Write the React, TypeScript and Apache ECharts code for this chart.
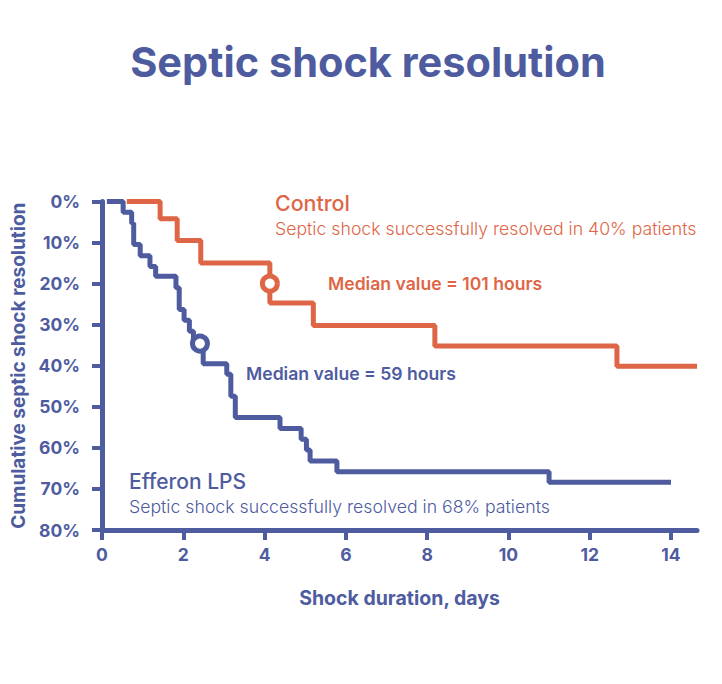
import React, { useEffect, useRef } from 'react';
import * as echarts from 'echarts';

const BLUE = '#4e5c9f';
const ORANGE = '#de6646';
const FONT = 'Inter, "Noto Sans", sans-serif';

// Efferon LPS (blue) Kaplan–Meier steps: day -> cumulative % resolved
const efferonDays = [0.12, 0.52, 0.73, 0.78, 0.94, 1.18, 1.32, 1.82, 1.9, 2.02, 2.15, 2.25, 2.49, 3.07, 3.17, 3.28, 4.38, 4.9, 5.03, 5.12, 5.78, 11.0, 14.0];
const efferonPct = [0, 2.6, 5.3, 10.5, 13.2, 15.8, 18.2, 21.0, 26.3, 28.9, 31.6, 34.2, 39.5, 42.1, 47.4, 52.6, 55.3, 57.9, 60.5, 63.2, 65.8, 68.4, 68.4];

// Control (orange)
const controlDays = [0.61, 1.43, 1.85, 2.43, 4.13, 5.2, 8.19, 12.67, 14.64];
const controlPct = [0, 4.2, 9.5, 15.0, 24.7, 30.2, 35.2, 40.1, 40.1];

// Median markers
const efferonMedian = [2.41, 34.6];
const controlMedian = [4.13, 20.0];

const xTicks = [0, 2, 4, 6, 8, 10, 12, 14];
const yTicks = [0, 10, 20, 30, 40, 50, 60, 70, 80];
const xMax = 14.64;

const TITLE = 'Septic shock resolution';
const X_NAME = 'Shock duration, days';
const Y_NAME = 'Cumulative septic shock resolution';
const CONTROL_NAME = 'Control';
const CONTROL_NOTE = 'Septic shock successfully resolved in 40% patients';
const CONTROL_MEDIAN = 'Median value = 101 hours';
const EFFERON_NAME = 'Efferon LPS';
const EFFERON_NOTE = 'Septic shock successfully resolved in 68% patients';
const EFFERON_MEDIAN = 'Median value = 59 hours';

export default function App() {
  const ref = useRef<HTMLDivElement>(null);
  useEffect(() => {
    if (!ref.current) return;
    const chart = echarts.init(ref.current, undefined, { renderer: 'svg' });
    const txt = (text: string, x: number, y: number, size: number, weight: number | string, color: string, align = 'left') => ({
      type: 'text',
      x,
      y,
      style: { text, fill: color, font: `${weight} ${size}px ${FONT}`, textAlign: align, textVerticalAlign: 'middle' },
    });
    chart.setOption({
      animation: false,
      backgroundColor: '#ffffff',
      grid: { left: 102, right: 25, top: 201.5, bottom: 154 },
      xAxis: {
        type: 'value',
        position: 'bottom',
        min: 0,
        max: xMax,
        interval: 2,
        name: X_NAME,
        nameLocation: 'middle',
        nameGap: 58,
        nameTextStyle: { color: BLUE, fontFamily: FONT, fontSize: 19.5, fontWeight: 700 },
        axisLine: { onZero: false, lineStyle: { color: BLUE, width: 5 } },
        axisTick: { show: true, length: 10, customValues: xTicks, lineStyle: { color: BLUE, width: 4 } },
        axisLabel: {
          customValues: xTicks,
          margin: 15,
          color: BLUE,
          fontFamily: FONT,
          fontSize: 17.5,
          fontWeight: 700,
        },
        splitLine: { show: false },
      },
      yAxis: {
        type: 'value',
        inverse: true,
        min: 0,
        max: 80,
        interval: 10,
        name: Y_NAME,
        nameLocation: 'middle',
        nameGap: 74,
        nameTextStyle: { color: BLUE, fontFamily: FONT, fontSize: 19, fontWeight: 700 },
        axisLine: { show: true, onZero: false, lineStyle: { color: BLUE, width: 5 } },
        axisTick: { show: true, length: 10, customValues: yTicks, lineStyle: { color: BLUE, width: 4 } },
        axisLabel: {
          customValues: yTicks,
          margin: 22,
          color: BLUE,
          fontFamily: FONT,
          fontSize: 17.5,
          fontWeight: 700,
          formatter: '{value}%',
        },
        splitLine: { show: false },
      },
      series: [
        {
          type: 'line',
          step: 'end',
          data: controlDays.map((d, i) => [d, controlPct[i]]),
          symbol: 'none',
          lineStyle: { color: ORANGE, width: 5 },
          z: 3,
        },
        {
          type: 'line',
          step: 'end',
          data: efferonDays.map((d, i) => [d, efferonPct[i]]),
          symbol: 'none',
          lineStyle: { color: BLUE, width: 5 },
          z: 3,
        },
        {
          type: 'scatter',
          data: [controlMedian],
          symbol: 'circle',
          symbolSize: 15,
          itemStyle: { color: '#ffffff', borderColor: ORANGE, borderWidth: 5, opacity: 1 },
          z: 5,
        },
        {
          type: 'scatter',
          data: [efferonMedian],
          symbol: 'circle',
          symbolSize: 15,
          itemStyle: { color: '#ffffff', borderColor: BLUE, borderWidth: 5, opacity: 1 },
          z: 5,
        },
      ],
      graphic: [
        txt(TITLE, 368, 62, 41.5, 700, BLUE, 'center'),
        txt(CONTROL_NAME, 275, 203, 21.4, 500, ORANGE),
        txt(CONTROL_NOTE, 275, 228, 17.7, 300, ORANGE),
        txt(CONTROL_MEDIAN, 328, 283, 17.6, 600, ORANGE),
        txt(EFFERON_MEDIAN, 246, 373, 17.6, 600, BLUE),
        txt(EFFERON_NAME, 129, 481, 21, 500, BLUE),
        txt(EFFERON_NOTE, 129, 506, 17.7, 300, BLUE),
      ],
    });
    return () => chart.dispose();
  }, []);
  return <div ref={ref} style={{ position: 'fixed', left: 0, top: 0, width: 722, height: 684 }} />;
}
